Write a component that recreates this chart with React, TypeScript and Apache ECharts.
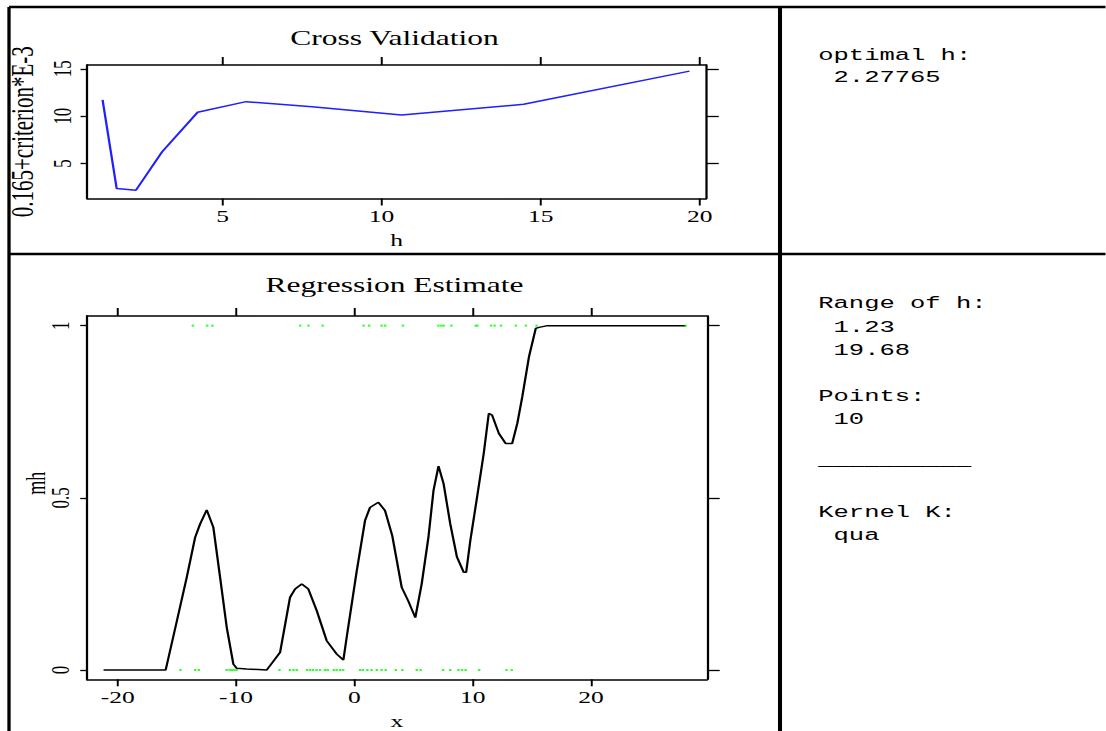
import React, { useEffect, useRef } from "react";
import * as echarts from "echarts";

// ---- Cross validation curve (h grid, 0.165 + criterion * E-3) ----
const cvH = [1.23, 1.674, 2.278, 3.1, 4.218, 5.74, 7.811, 10.63, 14.466, 19.68];
const cvCrit = [11.71, 2.35, 2.17, 6.23, 10.41, 11.53, 11.0, 10.12, 11.25, 14.75];

// ---- Regression estimate mh(x) ----
const regX = [
  -21.2, -15.95, -15.0, -14.17, -13.46, -13.04, -12.48, -11.92, -11.35, -10.79,
  -10.23, -9.94, -9.1, -7.41, -6.28, -5.44, -5.01, -4.45, -3.89, -3.18,
  -2.34, -1.49, -0.93, -0.65, 0.2, 0.9, 1.32, 2.03, 2.59, 3.2,
  4.0, 4.56, 5.15, 5.69, 6.26, 6.69, 7.11, 7.54, 8.1, 8.67,
  9.24, 9.45, 9.8, 10.37, 10.93, 11.36, 11.64, 12.21, 12.78, 13.34,
  13.77, 14.19, 14.76, 15.33, 15.61, 16.32, 28.0,
];
const regY = [
  0, 0, 0.143, 0.269, 0.385, 0.424, 0.465, 0.414, 0.269, 0.124,
  0.017, 0.005, 0.003, 0, 0.051, 0.211, 0.235, 0.25, 0.235, 0.172,
  0.085, 0.046, 0.029, 0.095, 0.288, 0.434, 0.472, 0.487, 0.463, 0.39,
  0.24, 0.2, 0.152, 0.25, 0.386, 0.522, 0.592, 0.541, 0.425, 0.328,
  0.284, 0.284, 0.376, 0.502, 0.628, 0.745, 0.74, 0.687, 0.658, 0.658,
  0.716, 0.793, 0.91, 0.992, 0.995, 1.0, 1.0,
];

// ---- Observations (green dots) ----
const obsAtOne = [
  -13.65, -12.45, -12.0, -4.58, -3.88, -2.68, 0.78, 1.25, 2.3, 2.6, 4.1, 7.1, 7.35,
  7.55, 8.2, 10.25, 10.4, 11.55, 11.85, 12.4, 13.65, 14.5, 15.4, 28.0,
];
const obsAtZero = [
  -14.7, -13.45, -13.15, -10.8, -10.55, -10.35, -10.15, -9.95, -6.33, -5.45, -5.15,
  -4.87, -4.0, -3.75, -3.5, -3.2, -2.9, -2.48, -2.25, -1.75, -1.5, -1.2, -0.95, 0.48,
  0.72, 1.1, 1.45, 1.9, 2.3, 2.65, 3.5, 4.05, 5.27, 5.6, 7.5, 8.1, 8.8, 9.1, 9.4,
  10.55, 12.85, 13.3,
];

// ---- Tick labels ----
const cvXTicks = [5, 10, 15, 20];
const cvYTicks = [5, 10, 15];
const regXTicks = [-20, -10, 0, 10, 20];
const regYTicks = [0, 0.5, 1];

// ---- Info panel texts ----
const infoTop = ["optimal h:", " 2.27765"];
const infoBottom = [
  "Range of h:",
  " 1.23",
  " 19.68",
  "Points:",
  " 10",
  "__________",
  "Kernel K:",
  " qua",
];

const STRETCH = 1.5;
const W = 1106 / STRETCH;
const H = 731;
const SERIF = '"Liberation Serif", "Times New Roman", serif';
const MONO = '"Liberation Mono", "Courier New", monospace';
const BLACK = "#000000";

function xAxisPair(gridIndex: number, min: number, max: number, ticks: number[], name: string, nameGap: number) {
  const common = {
    gridIndex,
    type: "value",
    min,
    max,
    splitLine: { show: false },
    axisLine: { show: true, onZero: false, lineStyle: { color: BLACK, width: 1.5 } },
  };
  return [
    {
      ...common,
      position: "bottom",
      name,
      nameLocation: "middle",
      nameGap,
      nameTextStyle: { fontFamily: SERIF, fontSize: 17, color: BLACK },
      axisTick: { show: true, inside: false, length: 7, customValues: ticks, lineStyle: { color: BLACK, width: 1.3 } },
      axisLabel: {
        show: true,
        customValues: ticks,
        margin: 10,
        fontFamily: SERIF,
        fontSize: 17,
        color: BLACK,
        formatter: (v: number) => String(v),
      },
    },
    {
      ...common,
      position: "top",
      axisTick: { show: true, inside: false, length: 8, customValues: ticks, lineStyle: { color: BLACK, width: 1.3 } },
      axisLabel: { show: false },
    },
  ];
}

function yAxisPair(
  gridIndex: number,
  min: number,
  max: number,
  ticks: number[],
  name: string,
  nameGap: number,
  nameSize: number,
  labelMargin: number,
  namePadding: number[],
) {
  const common = {
    gridIndex,
    type: "value",
    min,
    max,
    splitLine: { show: false },
    axisLine: { show: true, onZero: false, lineStyle: { color: BLACK, width: 1.5 } },
  };
  return [
    {
      ...common,
      position: "left",
      name,
      nameLocation: "middle",
      nameGap,
      nameMoveOverlap: false,
      nameTextStyle: { fontFamily: SERIF, fontSize: nameSize, color: BLACK, padding: namePadding },
      axisTick: { show: true, inside: false, length: 4.5, customValues: ticks, lineStyle: { color: BLACK, width: 1.3 } },
      axisLabel: {
        show: true,
        customValues: ticks,
        rotate: 90,
        margin: labelMargin,
        fontFamily: SERIF,
        fontSize: 17,
        color: BLACK,
        formatter: (v: number) => String(v),
      },
    },
    {
      ...common,
      position: "right",
      axisTick: { show: true, inside: false, length: 8.5, customValues: ticks, lineStyle: { color: BLACK, width: 1.3 } },
      axisLabel: { show: false },
    },
  ];
}

function buildOption() {
  const frame = [
    { x1: 6, y1: 7, x2: W, y2: 7, w: 2.5 },
    { x1: 6, y1: 7, x2: 6, y2: H, w: 2.2 },
    { x1: 520, y1: 7, x2: 520, y2: H, w: 2.7 },
    { x1: 6, y1: 254, x2: W, y2: 254, w: 2.5 },
  ].map((l) => ({
    type: "line",
    silent: true,
    shape: { x1: l.x1, y1: l.y1, x2: l.x2, y2: l.y2 },
    style: { stroke: BLACK, lineWidth: l.w },
  }));

  const titles = [
    { text: "Cross Validation", x: 263, y: 38 },
    { text: "Regression Estimate", x: 263, y: 285 },
  ].map((t) => ({
    type: "text",
    silent: true,
    x: t.x,
    y: t.y,
    style: {
      text: t.text,
      font: `21px ${SERIF}`,
      fill: BLACK,
      textAlign: "center",
      textVerticalAlign: "middle",
    },
  }));

  const charW = 10.2;
  const topYs = [55.7, 78];
  const bottomYs = [304, 327.2, 350.4, 396.8, 420, 461, 512.8, 536];
  const infoTexts = [
    ...infoTop.map((s, i) => ({ s, y: topYs[i] })),
    ...infoBottom.map((s, i) => ({ s, y: bottomYs[i] })),
  ].map(({ s, y }) => {
    const indent = s.length - s.trimStart().length;
    return {
      type: "text",
      silent: true,
      x: 545.5 + indent * charW,
      y,
      style: {
        text: s.trimStart(),
        font: `17px ${MONO}`,
        fill: BLACK,
        textAlign: "left",
        textVerticalAlign: "middle",
      },
    };
  });

  return {
    animation: false,
    backgroundColor: "#ffffff",
    grid: [
      { left: 58.2, width: 470.7 - 58.2, top: 65, height: 133.5, containLabel: false, outerBoundsMode: "none" },
      { left: 58, width: 471.3 - 58, top: 316, height: 363.3, containLabel: false, outerBoundsMode: "none" },
    ],
    xAxis: [
      ...xAxisPair(0, 0.75, 20.2, cvXTicks, "h", 34),
      ...xAxisPair(1, -22.6, 29.8, regXTicks, "x", 33.5),
    ],
    yAxis: [
      ...yAxisPair(0, 1.3, 15.4, cvYTicks, "0.165+criterion*E-3", 33, 21, 8, [0, 0, 0, 0]),
      ...yAxisPair(1, -0.027, 1.028, regYTicks, "mh", 25, 18, 9, [0, 0, 0, 29]),
    ],
    series: [
      {
        type: "line",
        xAxisIndex: 0,
        yAxisIndex: 0,
        data: cvH.map((h, i) => [h, cvCrit[i]]),
        showSymbol: false,
        silent: true,
        lineStyle: { color: "#1f1fff", width: 1.5 },
      },
      {
        type: "line",
        xAxisIndex: 2,
        yAxisIndex: 2,
        data: regX.map((x, i) => [x, regY[i]]),
        showSymbol: false,
        silent: true,
        lineStyle: { color: BLACK, width: 1.5 },
        z: 2,
      },
      {
        type: "scatter",
        xAxisIndex: 2,
        yAxisIndex: 2,
        data: obsAtOne.map((x) => [x, 1]),
        symbol: "rect",
        symbolSize: [1.6, 2],
        silent: true,
        itemStyle: { color: "#00ff00" },
        z: 3,
      },
      {
        type: "scatter",
        xAxisIndex: 2,
        yAxisIndex: 2,
        data: obsAtZero.map((x) => [x, 0]),
        symbol: "rect",
        symbolSize: [1.6, 2],
        silent: true,
        itemStyle: { color: "#00ff00" },
        z: 3,
      },
    ],
    graphic: [...frame, ...titles, ...infoTexts],
  };
}

export default function App() {
  const ref = useRef<HTMLDivElement>(null);
  useEffect(() => {
    if (!ref.current) return;
    const chart = echarts.init(ref.current, null, { renderer: "svg" });
    chart.setOption(buildOption() as any);
    return () => chart.dispose();
  }, []);
  return (
    <div
      style={{
        position: "absolute",
        left: 0,
        top: 0,
        width: 1106,
        height: 731,
        overflow: "hidden",
        background: "#ffffff",
      }}
    >
      <div
        ref={ref}
        style={{
          width: W,
          height: H,
          transform: `scaleX(${STRETCH})`,
          transformOrigin: "0 0",
        }}
      />
    </div>
  );
}
